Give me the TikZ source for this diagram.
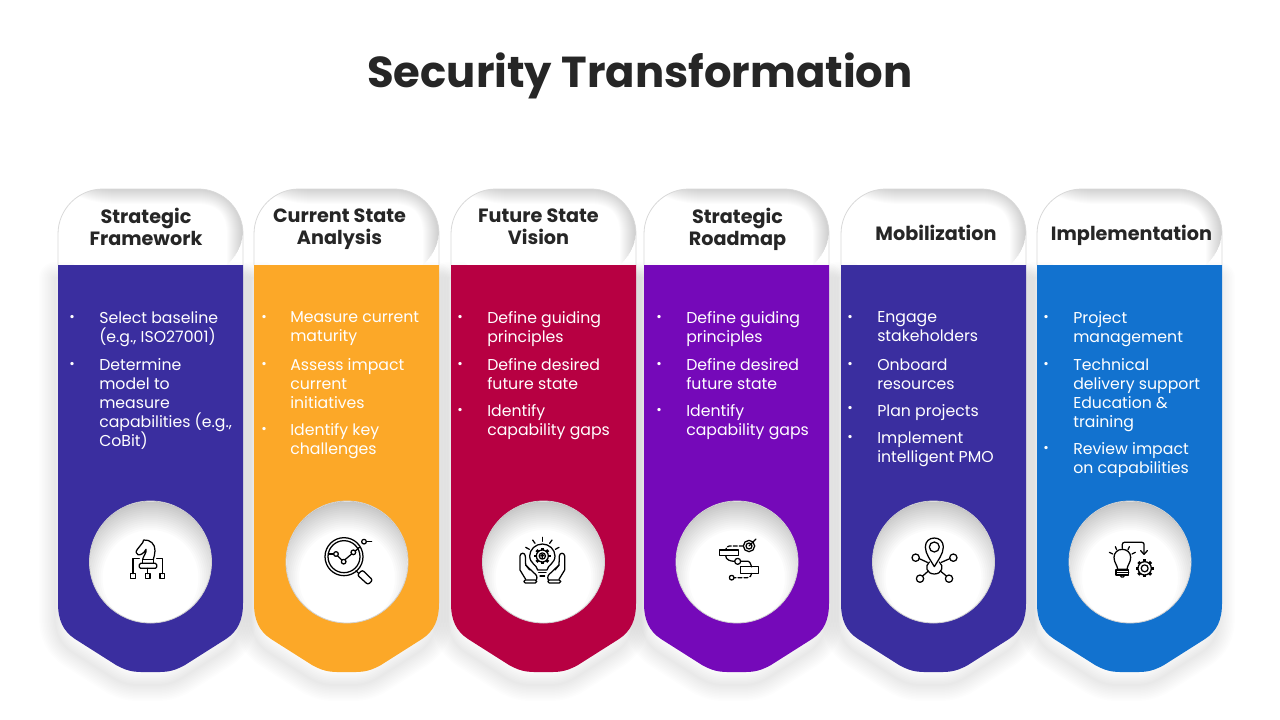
\documentclass[tikz,border=0pt]{standalone}
\usepackage{fontspec}
\setmainfont{Poppins}
\definecolor{cardindigo}{HTML}{3A2E9F}
\definecolor{cardamber}{HTML}{FCA828}
\definecolor{cardcrimson}{HTML}{B70042}
\definecolor{cardviolet}{HTML}{7509B9}
\definecolor{cardblue}{HTML}{1272CF}
\definecolor{titleink}{HTML}{262626}

% outline of one card, #1 is its left edge
\newcommand{\bodypath}[1]{(#1,265) -- (#1,603) .. controls (#1,620) and (#1+5,631) .. (#1+17,639) -- (#1+58,665) .. controls (#1+72,673) and (#1+80,672) .. (#1+92.5,672) .. controls (#1+105,672) and (#1+113,673) .. (#1+127,665) -- (#1+168,639) .. controls (#1+180,631) and (#1+185,620) .. (#1+185,603) -- (#1+185,265) -- cycle}
\newcommand{\headpath}[1]{[rounded corners=33.75pt] (#1,275) -- (#1,189) -- (#1+185,189) -- (#1+185,275)}
\newcommand{\carditem}[5]{%
\node[itemdot] (dot#1) at (#2,#4) {•};
\node[itemtext] (txt#1) at (#3,#4-6.5) {#5};}
\newcommand{\gearshape}[3]{%
\foreach \a in {0,45,...,315} \draw[iconline, line cap=butt, line width=2.2pt] (#1,#2) ++(\a:#3) -- ++(\a:7);
\draw[iconline, fill=white] (#1,#2) circle (#3);
\draw[iconline] (#1,#2) circle (#3*.52);}

\tikzset{
  titletext/.style={font=\bfseries\fontsize{32.5}{36}\selectfont, text=titleink, inner sep=0pt},
  headtext/.style={font=\bfseries\fontsize{14.4}{16.5}\selectfont, text=titleink, align=center, inner sep=0pt, execute at begin node=\strut, execute at end node=\strut},
  itemtext/.style={font=\fontsize{11.8}{14.25}\selectfont, text=white, align=left, anchor=north west, inner sep=0pt, execute at begin node=\strut},
  itemdot/.style={font=\fontsize{10}{12}\selectfont, text=white, inner sep=0pt},
  iconcircle/.style={circle, fill=white, draw=black!18, line width=.6pt, minimum size=91.5pt, inner sep=0pt},
  iconline/.style={draw=black, line width=.95pt, line cap=round, line join=round},
  iconzoom/.style={x=.25pt, y=-.25pt}
}

\begin{document}
\begin{tikzpicture}[x=.75pt, y=-.75pt]
\useasboundingbox (0,0) rectangle (1280,720);
\fill[white] (0,0) rectangle (1280,720);

% soft shadows under the cards
\foreach \x in {58,254,451,644,841,1037} {
  \foreach \w in {2,5,...,32}
    \draw[black, opacity=.009, line width=\w*.75pt, line join=round] [shift={(-3,13)}] \bodypath{\x};
}

% the cards
\foreach \n/\x/\c in {1/58/cardindigo,2/254/cardamber,3/451/cardcrimson,4/644/cardviolet,5/841/cardindigo,6/1037/cardblue} {
  \fill[white] \headpath{\x} -- cycle;
  \begin{scope}
    \clip \headpath{\x} -- cycle;
    \foreach \w in {2,4,...,36}
      \draw[black, opacity=.012, line width=\w*.75pt] (\x+5,165) .. controls (\x+20,180) and (\x+40,186) .. (\x+60,186) -- (\x+140,186) .. controls (\x+170,186) and (\x+187,205) .. (\x+187,234) -- (\x+187,280);
  \end{scope}
  \draw[black!15, line width=.6pt] [rounded corners=33.75pt] (\x,265) -- (\x,189) -- (\x+185,189) -- (\x+185,265);
  \fill[\c] \bodypath{\x};
}

% round plates for the icons
\foreach \n/\x in {1/150.5,2/347,3/543.5,4/737,5/933.5,6/1130} {
  \node[iconcircle] (plate\n) at (\x,562) {};
  \begin{scope}
    \clip (\x,562) circle (60.5);
    \foreach \w in {4,8,...,60}
      \draw[black, opacity=.014, line width=\w*.75pt] (\x,578) circle (78);
  \end{scope}
}

\node[titletext] (title) at (640,76) {Security Transformation};

\node[headtext] (head1) at (146,230) {Strategic\\Framework};
\node[headtext] (head2) at (339.5,230) {Current State\\Analysis};
\node[headtext] (head3) at (538.5,230) {Future State\\Vision};
\node[headtext] (head4) at (737.5,230) {Strategic\\Roadmap};
\node[headtext] (head5) at (936,236) {Mobilization};
\node[headtext] (head6) at (1131.5,236) {Implementation};

\carditem{a1}{72}{99}{318}{Select baseline\\(e.g., ISO27001)}
\carditem{a2}{72}{99}{365}{Determine\\model to\\measure\\capabilities (e.g.,\\CoBit)}

\carditem{b1}{264}{290}{318}{Measure current\\maturity}
\carditem{b2}{264}{290}{365}{Assess impact\\current\\initiatives}
\carditem{b3}{264}{290}{430}{Identify key\\challenges}

\carditem{c1}{460}{487}{318}{Define guiding\\principles}
\carditem{c2}{460}{487}{365}{Define desired\\future state}
\carditem{c3}{460}{487}{411}{Identify\\capability gaps}

\carditem{d1}{659}{686}{318}{Define guiding\\principles}
\carditem{d2}{659}{686}{365}{Define desired\\future state}
\carditem{d3}{659}{686}{411}{Identify\\capability gaps}

\carditem{e1}{850}{877}{318}{Engage\\stakeholders}
\carditem{e2}{850}{877}{365}{Onboard\\resources}
\carditem{e3}{850}{877}{409.5}{Plan projects}
\carditem{e4}{850}{877}{438}{Implement\\intelligent PMO}

\carditem{f1}{1046}{1073}{318}{Project\\management}
\carditem{f2}{1046}{1073}{365}{Technical\\delivery support\\Education \&\\training}
\carditem{f3}{1046}{1073}{449}{Review impact\\on capabilities}

% knight icon
\begin{scope}[shift={(100,520)}, iconzoom]
\draw[iconline] (92,161) rectangle (106,175);
\draw[iconline] (136,161) rectangle (150,175);
\draw[iconline] (180,161) rectangle (194,175);
\draw[iconline] (99,161) -- (99,116) -- (118,116);
\draw[iconline] (187,161) -- (187,116) -- (170,116);
\draw[iconline] (143,145) -- (143,161);
\draw[iconline, rounded corners=1pt] (118,130) rectangle (170,145);
\draw[iconline] (128,130) -- (128,118) -- (160,118) -- (160,130);
\draw[iconline] (128,118) .. controls (131,105) and (140,100) .. (138,88) .. controls (132,100) and (122,106) .. (114,104) .. controls (108,100) and (106,96) .. (112,88) -- (128,68) -- (131,60) .. controls (150,58) and (166,72) .. (165,92) .. controls (165,102) and (162,110) .. (160,118);
\end{scope}

% magnifier icon
\begin{scope}[shift={(300,520)}, iconzoom]
\draw[iconline] (132,110) circle (57);
\draw[iconline] (132,110) circle (48);
\draw[iconline] (85,102) -- (100,102);
\draw[iconline] (113,108) -- (125,120);
\draw[iconline] (135,119) -- (155,102);
\draw[iconline] (108,102) circle (7);
\draw[iconline] (131,125) circle (7);
\draw[iconline] (160,97) circle (7);
\draw[iconline] (167,92) -- (178,82);
\draw[iconline] (192,65) circle (7);
\draw[iconline] (199,65) -- (215,65);
\draw[iconline] (168,152) -- (176,160);
\draw[iconline, rounded corners=1.5pt] (172,165) -- (187,150) -- (218,180) -- (204,194) -- cycle;
\end{scope}

% bulb in hands icon
\begin{scope}[shift={(495,520)}, iconzoom]
\draw[iconline] (142,52) -- (142,64);
\draw[iconline] (113,60) -- (120,70);
\draw[iconline] (171,60) -- (164,70);
\draw[iconline] (92,82) -- (103,88);
\draw[iconline] (192,82) -- (181,88);
\draw[iconline] (128,150) .. controls (126,135) and (104,130) .. (104,108) .. controls (104,88) and (122,72) .. (142,72) .. controls (162,72) and (180,88) .. (180,108) .. controls (180,130) and (158,135) .. (156,150) -- cycle;
\draw[iconline] (131,158) -- (153,158);
\draw[iconline] (135,168) -- (149,168);
\gearshape{142}{108}{18}
\draw[iconline] (142,115) -- (142,103) (137,108) -- (142,103) -- (147,108);
\draw[iconline] (92,178) -- (75,150) -- (75,108) .. controls (76,97) and (90,97) .. (91,108) -- (92,135) -- (116,158) .. controls (125,165) and (128,170) .. (124,180);
\draw[iconline] (92,135) -- (104,150);
\draw[iconline, rounded corners=1pt] (87,180) rectangle (125,189);
\draw[iconline] (192,178) -- (209,150) -- (209,108) .. controls (208,97) and (194,97) .. (193,108) -- (192,135) -- (168,158) .. controls (159,165) and (156,170) .. (160,180);
\draw[iconline] (192,135) -- (180,150);
\draw[iconline, rounded corners=1pt] (159,180) rectangle (197,189);
\end{scope}

% roadmap icon
\begin{scope}[shift={(690,520)}, iconzoom]
\draw[iconline] (177,78) circle (17);
\draw[iconline] (177,78) circle (9);
\draw[iconline] (177,78) -- (198,57);
\draw[iconline] (89,90) rectangle (145,107);
\draw[iconline] (151,140) rectangle (206,160);
\draw[iconline] (143,124) circle (9);
\draw[iconline] (125,173) circle (7);
\draw[iconline, dash pattern=on 3pt off 1.5pt] (160,78) -- (118,78) to[out=180, in=90] (107,90);
\draw[iconline] (107,107) to[out=-90, in=180] (134,124);
\draw[iconline] (152,124) -- (175,124) to[out=0, in=-90] (185,140);
\draw[iconline, dash pattern=on 3pt off 1.5pt] (185,160) to[out=-90, in=0] (172,173) -- (132,173);
\end{scope}

% location network icon
\begin{scope}[shift={(885,520)}, iconzoom]
\draw[iconline] (148,140) .. controls (138,122) and (121,102) .. (121,81) .. controls (121,64) and (133,54) .. (148,54) .. controls (163,54) and (175,64) .. (175,81) .. controls (175,102) and (158,122) .. (148,140);
\draw[iconline] (148,81) circle (15);
\draw[iconline] (133,126) .. controls (118,138) and (125,162) .. (148,162) .. controls (171,162) and (178,138) .. (163,126);
\draw[iconline] (92,113) circle (11);
\draw[iconline] (205,113) circle (11);
\draw[iconline] (105,176) circle (11);
\draw[iconline] (192,176) circle (11);
\draw[iconline] (103,116) -- (127,127);
\draw[iconline] (194,116) -- (169,127);
\draw[iconline] (113,168) -- (130,153);
\draw[iconline] (184,168) -- (166,153);
\end{scope}

% bulb and gear icon
\begin{scope}[shift={(1080,520)}, iconzoom]
\draw[iconline] (113,148) .. controls (112,135) and (102,128) .. (102,112) .. controls (102,98) and (113,88) .. (127,88) .. controls (141,88) and (152,98) .. (152,112) .. controls (152,128) and (142,135) .. (141,148) -- cycle;
\draw[iconline] (108,150) rectangle (146,165);
\draw[iconline] (108,157) -- (146,157);
\draw[iconline] (120,165) -- (134,165) -- (130,171) -- (124,171) -- cycle;
\draw[iconline] (88,97) -- (98,102);
\draw[iconline] (106,80) -- (110,89);
\draw[iconline] (148,80) -- (144,89);
\draw[iconline] (166,97) -- (156,102);
\draw[iconline, rounded corners=1.5pt] (127,85) -- (127,67) -- (192,67) -- (192,102);
\draw[iconline] (182,92) -- (192,103) -- (202,92);
\gearshape{194}{145}{20}
\end{scope}
\end{tikzpicture}
\end{document}
